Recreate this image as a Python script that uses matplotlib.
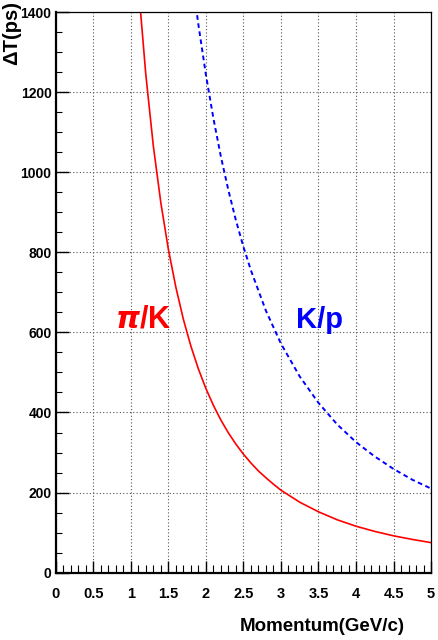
import matplotlib
matplotlib.use("Agg")
import matplotlib.pyplot as plt
from matplotlib import font_manager
from matplotlib.ticker import MultipleLocator


# Time-of-flight difference vs. momentum (ps)
p_pik = [1.1, 1.2, 1.3, 1.4, 1.5, 1.6, 1.7, 1.8, 1.9, 2.0, 2.1, 2.2, 2.3, 2.4, 2.5,
         2.6, 2.7, 2.8, 2.9, 3.0, 3.25, 3.5, 3.75, 4.0, 4.25, 4.5, 4.75, 5.0]
dt_pik = [1469, 1244, 1066, 924, 808, 713, 633, 566, 509, 460, 418, 381, 349, 321, 296,
          274, 254, 237, 221, 206, 176, 152, 132, 116, 103, 92, 83, 75]

p_kp = [1.85, 1.9, 2.0, 2.1, 2.2, 2.3, 2.4, 2.5, 2.6, 2.8, 3.0, 3.25, 3.5, 3.75,
        4.0, 4.25, 4.5, 4.75, 5.0]
dt_kp = [1439, 1369, 1244, 1135, 1039, 955, 880, 814, 755, 654, 572, 490, 424, 370,
         326, 290, 259, 232, 210]

x_ticks = [0, 0.5, 1, 1.5, 2, 2.5, 3, 3.5, 4, 4.5, 5]
x_tick_labels = ["0", "0.5", "1", "1.5", "2", "2.5", "3", "3.5", "4", "4.5", "5"]
y_ticks = [0, 200, 400, 600, 800, 1000, 1200, 1400]


installed = {f.name for f in font_manager.fontManager.ttflist}
if "Liberation Sans Narrow" in installed:
    FONT = ["Liberation Sans Narrow", "DejaVu Sans"]
else:
    FONT = ["Liberation Sans", "DejaVu Sans"]
plt.rcParams["font.family"] = FONT
plt.rcParams["font.weight"] = "bold"

fig = plt.figure(figsize=(4.39, 6.40), dpi=100)
ax = fig.add_axes([0.1269, 0.1052, 0.8551, 0.8760])

ax.plot(p_pik, dt_pik, color="#ff0000", lw=1.2)
ax.plot(p_kp, dt_kp, color="#0000ff", lw=1.4, linestyle=(0, (2.4, 1.8)))

ax.set_xlim(0, 5)
ax.set_ylim(0, 1400)

ax.set_xticks(x_ticks)
ax.set_xticklabels(x_tick_labels)
ax.set_yticks(y_ticks)
ax.xaxis.set_minor_locator(MultipleLocator(0.1))
ax.yaxis.set_minor_locator(MultipleLocator(50))

ax.tick_params(axis="both", which="both", direction="in", top=False, right=False,
               color="black")
ax.tick_params(axis="x", which="major", length=9, width=1.0, pad=10, labelsize=10.5)
ax.tick_params(axis="x", which="minor", length=6, width=0.8)
ax.tick_params(axis="y", which="major", length=9, width=1.0, pad=3, labelsize=10)
ax.tick_params(axis="y", which="minor", length=4.5, width=0.8)
for lab in ax.get_xticklabels() + ax.get_yticklabels():
    lab.set_fontweight("bold")

ax.grid(True, which="major", color="#555555", lw=0.8, linestyle=(0, (1, 2)))

for side in ("left", "bottom"):
    ax.spines[side].set_linewidth(1.6)
for side in ("top", "right"):
    ax.spines[side].set_linewidth(0.9)

ax.text(0.79, 612, r"$\pi$/K", color="#ff0000", fontsize=22, fontweight="bold",
        ha="left", va="baseline")
ax.text(3.2, 612, "K/p", color="#0000ff", fontsize=21, fontweight="bold",
        ha="left", va="baseline")

fig.text(0.922, 0.008, "Momentum(GeV/c)", fontsize=13.5, fontweight="bold",
         ha="right", va="bottom")
fig.text(0.026, 0.998, "ΔT(ps)", fontsize=14.5, fontweight="bold",
         rotation=90, ha="center", va="top")

fig.savefig("out.png", dpi=100)
